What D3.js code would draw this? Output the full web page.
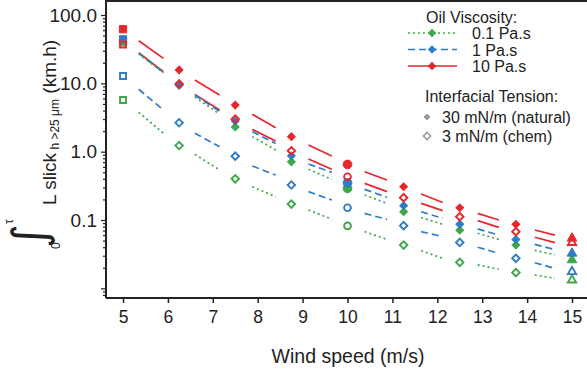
<!DOCTYPE html>
<html><head><meta charset="utf-8">
<script src="https://cdn.jsdelivr.net/npm/d3@7"></script>
<style>
body{margin:0;background:#fff}
svg text{font-family:"Liberation Sans",Arial,Helvetica,sans-serif;fill:#222}
</style>
</head><body><svg id="c" width="587" height="373"></svg>
<script>
// ---- data ----
const windSpeeds = [5, 6.25, 7.5, 8.75, 10, 11.25, 12.5, 13.75, 15];
const markerShapes = ["square","diamond","diamond","diamond","circle","diamond","diamond","diamond","triangle"];

// observed points (filled = 30 mN/m natural, open = 3 mN/m chem)
const red_nat   = [62, 15.7, 4.8, 1.66, 0.65, 0.307, 0.151, 0.0865, 0.054];
const red_chem  = [37, 9.8, 3.0, 1.03, 0.43, 0.212, 0.112, 0.0675, 0.0466];
const blue_nat  = [44, 9.5, 2.8, 0.87, 0.35, 0.162, 0.087, 0.052, 0.0325];
const blue_chem = [12.8, 2.65, 0.86, 0.325, 0.151, 0.0826, 0.047, 0.0275, 0.0175];
const green_nat = [40, 9.3, 2.3, 0.71, 0.29, 0.132, 0.071, 0.043, 0.026];
const green_chem= [5.7, 1.23, 0.40, 0.171, 0.082, 0.043, 0.024, 0.017, 0.0132];

// model segments between wind speeds
const segStart = [5.35, 6.6, 7.88, 9.13, 10.38, 11.64, 12.9, 14.17];
const segEnd   = [5.9, 7.15, 8.4, 9.65, 10.88, 12.12, 13.37, 14.62];
const red_nat_s0   = [42, 11.2, 3.52, 1.25, 0.509, 0.24, 0.125, 0.0715];
const red_nat_s1   = [23.2, 6.75, 2.24, 0.865, 0.385, 0.18, 0.1, 0.06];
const red_chem_s0  = [28, 6.9, 2.12, 0.78, 0.344, 0.175, 0.098, 0.056];
const red_chem_s1  = [14.8, 4.07, 1.43, 0.552, 0.26, 0.137, 0.078, 0.0466];
const blue_nat_s0  = [27.5, 6.7, 1.96, 0.659, 0.281, 0.132, 0.074, 0.044];
const blue_nat_s1  = [14.5, 3.9, 1.32, 0.5, 0.215, 0.106, 0.06, 0.037];
const green_nat_s0 = [27, 6.3, 1.66, 0.552, 0.232, 0.109, 0.064, 0.036];
const green_nat_s1 = [14.2, 3.56, 1.06, 0.394, 0.175, 0.0865, 0.052, 0.031];
const blue_chem_s0 = [8.2, 1.86, 0.617, 0.26, 0.125, 0.0675, 0.04, 0.0237];
const blue_chem_s1 = [4.07, 1.18, 0.455, 0.196, 0.102, 0.057, 0.0325, 0.0196];
const green_chem_s0= [3.77, 0.914, 0.307, 0.14, 0.0675, 0.0356, 0.022, 0.0157];
const green_chem_s1= [1.86, 0.54, 0.219, 0.103, 0.052, 0.0275, 0.019, 0.014];

const xTicks = [5,6,7,8,9,10,11,12,13,14,15];
const yMajor = [0.1, 1, 10, 100];
const yMajorLabels = ["0.1","1.0","10.0","100.0"];
const viscLabels = ["0.1 Pa.s","1 Pa.s","10 Pa.s"];
const iftLabels = ["30 mN/m (natural)","3 mN/m (chem)"];

// ---- chart ----
const svg = d3.select("#c");
const RED="#e8262d", BLUE="#2f7cc6", GREEN="#3fa84a";
const x = d3.scaleLinear().domain([4.621, 15.334]).range([106, 587]);
const y = d3.scaleLog().domain([0.00722, 165.8]).range([298, 0]);

// model lines
const lineSeries = [
  {s0:red_nat_s0, s1:red_nat_s1, c:RED, dash:null},
  {s0:red_chem_s0, s1:red_chem_s1, c:RED, dash:null},
  {s0:blue_nat_s0, s1:blue_nat_s1, c:BLUE, dash:"7,4"},
  {s0:blue_chem_s0, s1:blue_chem_s1, c:BLUE, dash:"7,4"},
  {s0:green_nat_s0, s1:green_nat_s1, c:GREEN, dash:"2,3"},
  {s0:green_chem_s0, s1:green_chem_s1, c:GREEN, dash:"2,3"}
];
const lineGen = d3.line().x(d=>x(d[0])).y(d=>y(d[1]));
lineSeries.forEach(ls=>{
  segStart.forEach((xs,i)=>{
    svg.append("path")
      .attr("d", lineGen([[xs, ls.s0[i]],[segEnd[i], ls.s1[i]]]))
      .attr("fill","none").attr("stroke",ls.c).attr("stroke-width",1.7)
      .attr("stroke-dasharray", ls.dash);
  });
});

// markers
const symFor = (shape, filled) => {
  if (shape==="square") return d3.symbol(d3.symbolSquare, filled?52:36)();
  if (shape==="diamond") return d3.symbol(d3.symbolSquare, filled?30:28)();
  if (shape==="circle") return d3.symbol(d3.symbolCircle, filled?60:36)();
  return d3.symbol(d3.symbolTriangle, filled?40:30)();
};
const ptSeries = [
  {v:green_nat, c:GREEN, f:true},
  {v:blue_nat, c:BLUE, f:true},
  {v:red_nat, c:RED, f:true},
  {v:green_chem, c:GREEN, f:false},
  {v:blue_chem, c:BLUE, f:false},
  {v:red_chem, c:RED, f:false}
];
ptSeries.forEach(ps=>{
  windSpeeds.forEach((w,i)=>{
    const sh = markerShapes[i];
    const rot = sh==="diamond" ? " rotate(45)" : "";
    svg.append("path")
      .attr("d", symFor(sh, ps.f))
      .attr("transform", `translate(${x(w)},${y(ps.v[i])})${rot}`)
      .attr("fill", ps.f ? ps.c : "none")
      .attr("stroke", ps.c)
      .attr("stroke-width", ps.f ? 1 : 1.9);
  });
});

// axes
const xAxis = svg.append("g").attr("transform","translate(0,298)")
  .call(d3.axisBottom(x).tickValues(xTicks).tickSize(5).tickPadding(8).tickFormat(d3.format("d")));
xAxis.select(".domain").attr("stroke","#222").attr("stroke-width",2).attr("d","M106,0H587");
xAxis.selectAll(".tick line").attr("stroke","#222").attr("stroke-width",1.5);
xAxis.selectAll(".tick text").style("font-size","17.5px").attr("fill","#222");

const yAll = [];
for (let e=-3; e<=2; e++) for (let m=1; m<10; m++) { const v=m*Math.pow(10,e); if (v>=0.00722 && v<=165.8) yAll.push(v); }
const yAxis = svg.append("g").attr("transform","translate(106,0)")
  .call(d3.axisLeft(y).tickValues(yAll).tickSize(3).tickPadding(6)
    .tickFormat(d=>{const k=yMajor.findIndex(m=>Math.abs(m-d)/d<1e-6); return k>=0?yMajorLabels[k]:"";}));
yAxis.select(".domain").attr("stroke","#222").attr("stroke-width",2).attr("d","M0,0V298");
yAxis.selectAll(".tick line").attr("stroke","#222").attr("stroke-width",1.2)
  .attr("x2", d => (Math.abs(Math.log10(d)-Math.round(Math.log10(d)))<1e-6) ? -5 : -3);
yAxis.selectAll(".tick text").style("font-size","19px").attr("fill","#222").attr("x",-9);

// top frame line
svg.append("line").attr("x1",106).attr("x2",587).attr("y1",1).attr("y2",1).attr("stroke","#222").attr("stroke-width",2);

// x title
svg.append("text").attr("x",348).attr("y",363).attr("text-anchor","middle").style("font-size","19.5px").text("Wind speed (m/s)");

// y title
const yt = svg.append("g").attr("transform","translate(56,252) rotate(-90)");
yt.append("text").attr("x",4).attr("y",-11).style("font-size","46px").style("font-family","DejaVu Sans").style("font-weight","normal").text("∫");
yt.append("text").attr("x",3).attr("y",4).style("font-size","12px").text("0");
yt.append("text").attr("x",28).attr("y",-43).style("font-size","12px").text("τ");
const tt = yt.append("text").attr("x",47).attr("y",0).style("font-size","19px");
tt.append("tspan").text("L slick");
tt.append("tspan").attr("dy",3).style("font-size","12px").text(" h >25 μm");
tt.append("tspan").attr("dy",-3).text(" (km.h)");

// legend
const leg = svg.append("g");
leg.append("text").attr("x",426).attr("y",23).style("font-size","16px").text("Oil Viscosity:");
const legSeries = [{c:GREEN,dash:"2,3"},{c:BLUE,dash:"7,4"},{c:RED,dash:null}];
legSeries.forEach((ls,i)=>{
  const cy = 33 + i*16.5;
  leg.append("line").attr("x1",408).attr("x2",457).attr("y1",cy).attr("y2",cy)
    .attr("stroke",ls.c).attr("stroke-width",1.7).attr("stroke-dasharray",ls.dash);
  leg.append("path").attr("d",d3.symbol(d3.symbolSquare,24)()).attr("transform",`translate(432,${cy}) rotate(45)`)
    .attr("fill",ls.c).attr("stroke",ls.c).attr("stroke-width",1);
  leg.append("text").attr("x",472).attr("y",cy+6).style("font-size","16px").text(viscLabels[i]);
});
leg.append("text").attr("x",425).attr("y",102).style("font-size","16px").text("Interfacial Tension:");
iftLabels.forEach((t,i)=>{
  const cy = 117 + i*19;
  leg.append("path").attr("d",d3.symbol(d3.symbolSquare,i===0?16:26)()).attr("transform",`translate(427,${cy}) rotate(45)`)
    .attr("fill",i===0?"#9a9a9a":"none").attr("stroke","#9a9a9a").attr("stroke-width",i===0?1:1.6);
  leg.append("text").attr("x",442).attr("y",cy+6).style("font-size","16px").text(t);
});
</script>
</body></html>
